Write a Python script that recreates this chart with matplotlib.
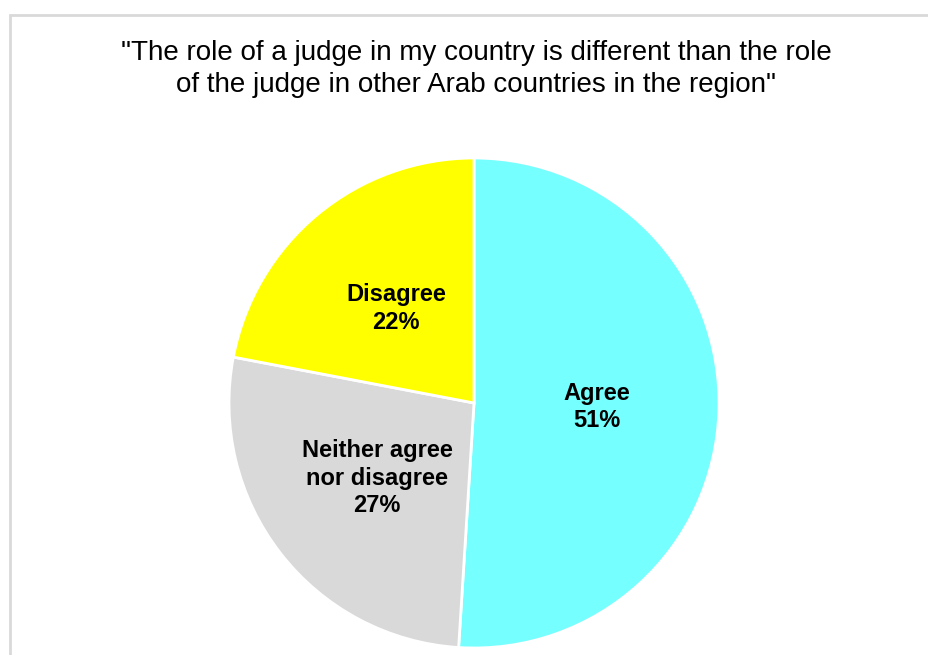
import matplotlib.pyplot as plt
from matplotlib.patches import Rectangle

plt.rcParams['font.family'] = ['Liberation Sans', 'DejaVu Sans']

# survey responses
categories = ["Agree", "Neither agree\nnor disagree", "Disagree"]
shares = [51, 27, 22]
colors = ["#75ffff", "#d9d9d9", "#ffff00"]

title = ('"The role of a judge in my country is different than the role\n'
         'of the judge in other Arab countries in the region"')

W, H = 929, 655
fig = plt.figure(figsize=(W / 100, H / 100), dpi=100)

# light frame around the chart area (runs off the right and bottom edges)
fig.patches.append(Rectangle((10 / W, -0.05), 1.0, 1 - 15 / H + 0.05,
                             transform=fig.transFigure, fill=False,
                             edgecolor="#d9d9d9", linewidth=2))

fig.text(476 / W, 1 - 69 / H, title, ha="center", va="center",
         fontsize=20, linespacing=1.3)

ax = fig.add_axes([229 / W, 7 / H, 490 / W, 490 / H])
labels = [f"{c}\n{v}%" for c, v in zip(categories, shares)]
wedges, texts = ax.pie(shares, colors=colors, startangle=90, counterclock=False,
                       labels=labels, labeldistance=0.5,
                       wedgeprops=dict(edgecolor="white", linewidth=2),
                       textprops=dict(fontsize=17, fontweight="bold",
                                      ha="center", va="center",
                                      linespacing=1.25))
ax.set_xlim(-1, 1)
ax.set_ylim(-1, 1)
ax.set_aspect("equal")
ax.axis("off")

fig.savefig("out.png", dpi=100)
